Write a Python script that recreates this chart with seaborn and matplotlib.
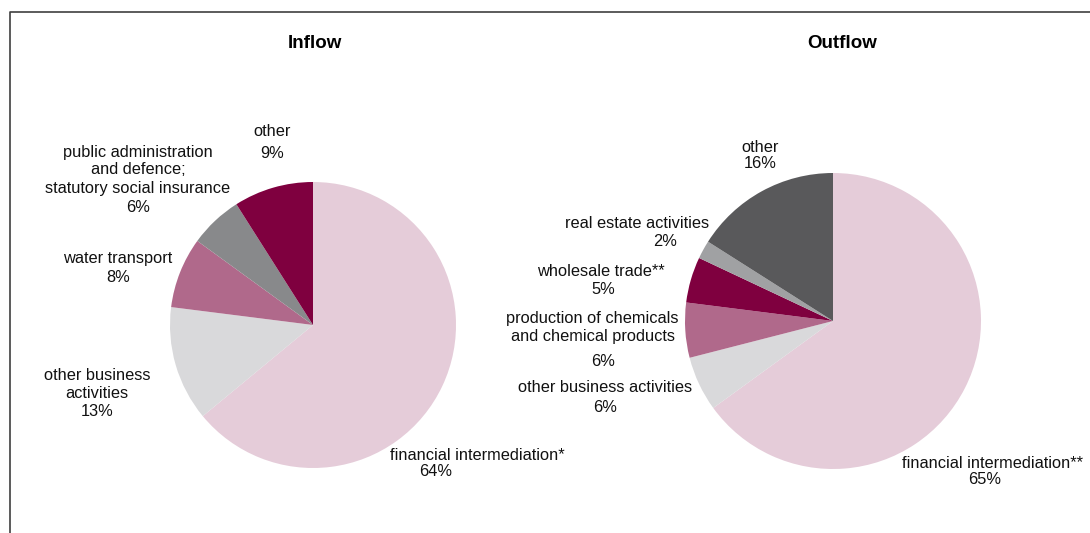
import matplotlib
matplotlib.use("Agg")
import matplotlib.pyplot as plt
import seaborn as sns

# data
inflow_labels = ["financial intermediation*", "other business activities", "water transport",
                 "public administration and defence; statutory social insurance", "other"]
inflow_values = [64, 13, 8, 6, 9]
inflow_colors = ["#E5CCD9", "#D9D9DB", "#B0698B", "#88898B", "#7F003F"]

outflow_labels = ["financial intermediation**", "other business activities",
                  "production of chemicals and chemical products", "wholesale trade**",
                  "real estate activities", "other"]
outflow_values = [65, 6, 6, 5, 2, 16]
outflow_colors = ["#E5CCD9", "#D9D9DB", "#B0698B", "#7F003F", "#A0A1A3", "#59595B"]

sns.set_theme(style="white")
plt.rcParams['font.family'] = ['Liberation Sans', 'DejaVu Sans']

W, H = 1090, 533
fig = plt.figure(figsize=(10.9, 5.33), dpi=100)
ax = fig.add_axes([0, 0, 1, 1])
ax.set_xlim(0, W)
ax.set_ylim(0, H)
ax.set_aspect('equal')
ax.axis('off')


def y(py):
    # pixel row -> data y
    return H - py


# frame
ax.plot([10, 10, W], [0, y(12), y(12)], color="#404040", lw=1.2)

ax.pie(inflow_values, colors=inflow_colors, startangle=90, counterclock=False,
       center=(313, y(325)), radius=143, wedgeprops=dict(linewidth=0))
ax.pie(outflow_values, colors=outflow_colors, startangle=90, counterclock=False,
       center=(833, y(321)), radius=148, wedgeprops=dict(linewidth=0))
ax.set_xlim(0, W)
ax.set_ylim(0, H)

fs = 11.8
txt = dict(fontsize=fs, ha='center', va='center', color="#111111")

ax.text(315, y(44), "Inflow", fontsize=13.5, fontweight='bold', ha='center', va='center', color="black")
ax.text(842, y(44), "Outflow", fontsize=13.5, fontweight='bold', ha='center', va='center', color="black")

# inflow labels
ax.text(272, y(131), "other", **txt)
ax.text(272, y(154), f"{inflow_values[4]}%", **txt)
ax.text(138, y(152), "public administration", **txt)
ax.text(138, y(170), "and defence;", **txt)
ax.text(138, y(189), "statutory social insurance", **txt)
ax.text(138, y(207), f"{inflow_values[3]}%", **txt)
ax.text(118, y(259), "water transport", **txt)
ax.text(118, y(277), f"{inflow_values[2]}%", **txt)
ax.text(97, y(375), "other business", **txt)
ax.text(97, y(393), "activities", **txt)
ax.text(97, y(412), f"{inflow_values[1]}%", **txt)
ax.text(477, y(455), inflow_labels[0], **txt)
ax.text(436, y(472), f"{inflow_values[0]}%", **txt)

# outflow labels
ax.text(760, y(147), "other", **txt)
ax.text(760, y(163), f"{outflow_values[5]}%", **txt)
ax.text(637, y(224), outflow_labels[4], **txt)
ax.text(665, y(241), f"{outflow_values[4]}%", **txt)
ax.text(601, y(272), outflow_labels[3], **txt)
ax.text(603, y(289), f"{outflow_values[3]}%", **txt)
ax.text(592, y(318), "production of chemicals", **txt)
ax.text(593, y(337), "and chemical products", **txt)
ax.text(603, y(361), f"{outflow_values[2]}%", **txt)
ax.text(605, y(388), outflow_labels[1], **txt)
ax.text(605, y(407), f"{outflow_values[1]}%", **txt)
ax.text(992, y(463), outflow_labels[0], **txt)
ax.text(985, y(480), f"{outflow_values[0]}%", **txt)

fig.savefig("out.png", dpi=100, facecolor="white")
